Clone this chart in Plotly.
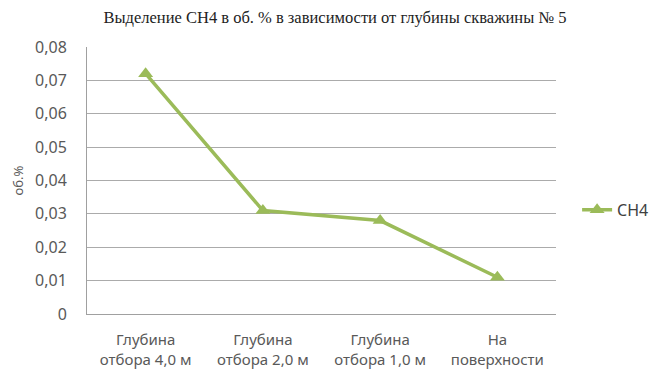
import plotly.graph_objects as go

categories = ["Глубина<br>отбора 4,0 м", "Глубина<br>отбора 2,0 м", "Глубина<br>отбора 1,0 м", "На<br>поверхности"]
ch4_values = [0.072, 0.031, 0.028, 0.011]
y_tick_vals = [0, 0.01, 0.02, 0.03, 0.04, 0.05, 0.06, 0.07, 0.08]
y_tick_text = ["0", "0,01", "0,02", "0,03", "0,04", "0,05", "0,06", "0,07", "0,08"]

fig = go.Figure()
fig.add_trace(go.Scatter(
    x=categories, y=ch4_values, mode="lines+markers", name="CH4",
    line=dict(color="#9bbb59", width=3.5),
    marker=dict(symbol="triangle-up", size=13, color="#9bbb59"),
))

fig.update_layout(
    width=660, height=371,
    margin=dict(l=79, r=112, t=39, b=65, autoexpand=False),
    paper_bgcolor="white", plot_bgcolor="white",
    title=dict(text="Выделение CH4 в об. % в зависимости от глубины скважины № 5",
               x=(335 - 8) / 660, xanchor="center", y=1 - (17 - 8) / 371, yanchor="middle",
               font=dict(family="Liberation Serif", size=16.5, color="#222222")),
    showlegend=True,
    legend=dict(x=1.045, xanchor="left", y=0.39, yanchor="middle",
                font=dict(family="Noto Sans", size=16, color="#404040"),
                bgcolor="rgba(0,0,0,0)"),
    font=dict(family="Noto Sans", size=15, color="#595959"),
)
fig.update_xaxes(
    type="category", showgrid=False, showline=True, linecolor="#a0a0a0", linewidth=1,
    ticks="", ticklabelstandoff=12, automargin=False,
    tickfont=dict(family="Noto Sans", size=15, color="#595959"),
    range=[-0.5, 3.5],
)
fig.update_yaxes(
    range=[0, 0.08], tickvals=y_tick_vals, ticktext=y_tick_text,
    showgrid=True, gridcolor="#ababab", gridwidth=1,
    showline=True, linecolor="#a0a0a0", linewidth=1, zeroline=False,
    ticks="", ticklabelstandoff=16, automargin=False,
    tickfont=dict(family="Noto Sans", size=16, color="#595959"),
    title=dict(text="об.%", font=dict(family="Noto Sans", size=13, color="#595959"), standoff=8),
)

fig.write_html("out.html")
